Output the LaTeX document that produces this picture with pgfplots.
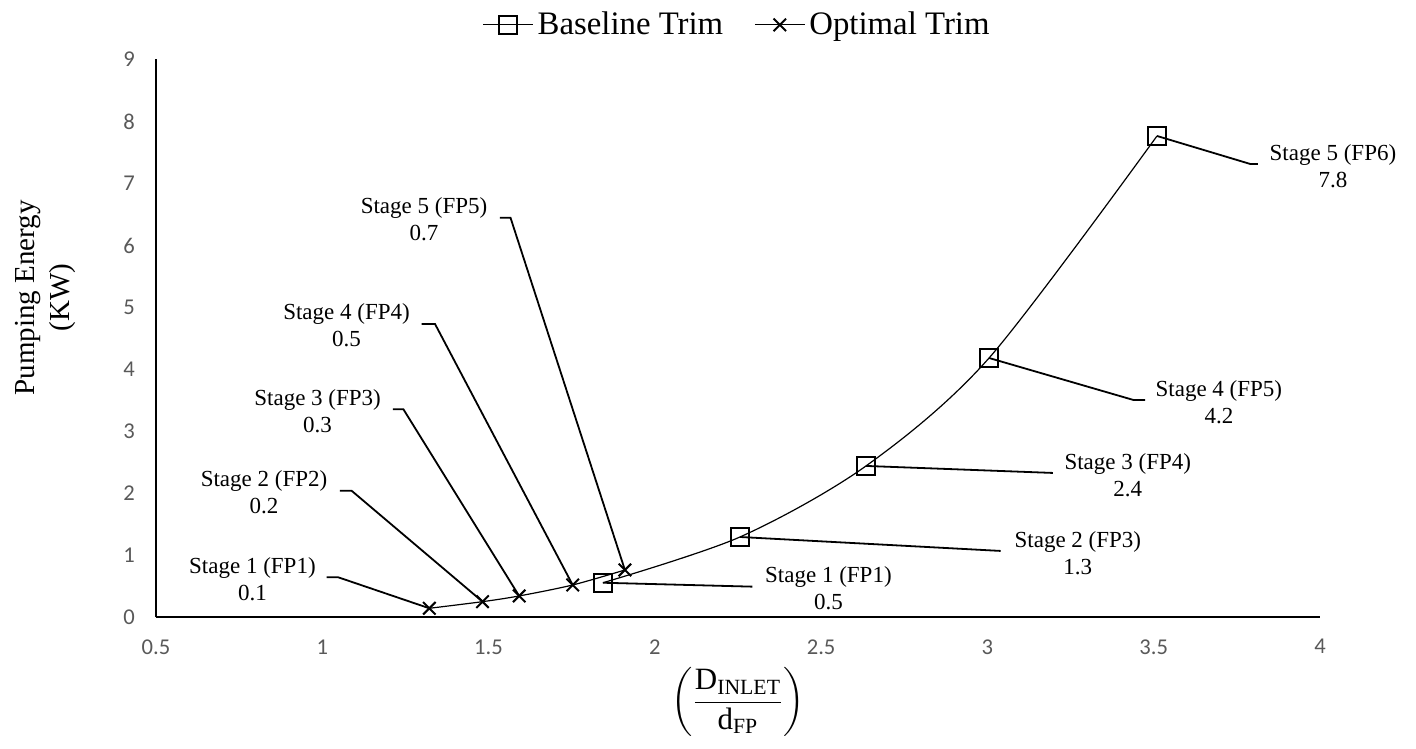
\documentclass[border=0pt]{standalone}
\usepackage{amsmath}
\usepackage{pgfplots}
\pgfplotsset{compat=1.18}
\usepackage{fontspec}
\setmainfont{Liberation Serif}
\newfontfamily\carlito{Carlito}
\definecolor{tickgray}{RGB}{89,89,89}
\newcommand{\lab}{\fontsize{11.5}{13.5}\selectfont}
\begin{document}
\begin{tikzpicture}
\begin{axis}[
  scale only axis, width=582pt, height=279pt,
  xmin=0.5, xmax=4, ymin=0, ymax=9,
  axis lines*=left,
  axis line style={line width=1pt, black},
  major tick length=0pt,
  xtick={0.5,1,1.5,2,2.5,3,3.5,4},
  xticklabels={0.5,1,1.5,2,2.5,3,3.5,4},
  ytick={0,1,2,3,4,5,6,7,8,9},
  yticklabels={0,1,2,3,4,5,6,7,8,9},
  ticklabel style={font=\carlito\fontsize{11.3}{13}\selectfont, text=tickgray},
  xticklabel style={inner sep=0.5pt, yshift=-10.3pt},
  yticklabel style={xshift=-7pt},
  clip=false,
  ylabel={Pumping Energy\\(KW)},
  every axis y label/.style={at={(rel axis cs:-0.095,0.573)}, rotate=90, anchor=center,
     font=\fontsize{14.5}{17.5}\selectfont, align=center},
  xlabel={$\displaystyle\left(\frac{\text{D}_{\text{INLET}}}{\text{d}_{\text{FP}}}\right)$},
  every axis x label/.style={at={(rel axis cs:0.5,-0.152)}, anchor=center, inner sep=0pt,
     font=\fontsize{15.5}{18}\selectfont},
  legend style={at={(rel axis cs:0.5,1.062)}, anchor=center, draw=none, fill=none,
    font=\fontsize{16.4}{19}\selectfont, legend columns=2,
    /tikz/every even column/.append style={column sep=13.5pt}},
  legend image code/.code={\draw[mark repeat=2, mark phase=2, #1] plot coordinates {(0pt,0pt) (12.5pt,0pt) (25pt,0pt)};},
]
\addplot[black, line width=0.6pt, smooth, mark=square, mark size=4.6pt, mark options={line width=1pt, solid}]
  coordinates {(1.844,0.56) (2.256,1.298) (2.635,2.444) (3.005,4.185) (3.51,7.766)};
\addlegendentry{Baseline Trim}
\addplot[black, line width=0.6pt, smooth, mark=x, mark size=4.4pt, mark options={line width=1pt, solid}]
  coordinates {(1.322,0.148) (1.482,0.255) (1.592,0.347) (1.753,0.524) (1.910,0.766)};
\addlegendentry{Optimal Trim}

% leader lines, optimal (left)
\draw[black, line width=0.9pt] (axis cs:1.013,0.648) -- (axis cs:1.048,0.648) -- (axis cs:1.322,0.148);
\draw[black, line width=0.9pt] (axis cs:1.053,2.045) -- (axis cs:1.088,2.045) -- (axis cs:1.482,0.255);
\draw[black, line width=0.9pt] (axis cs:1.212,3.358) -- (axis cs:1.244,3.358) -- (axis cs:1.592,0.347);
\draw[black, line width=0.9pt] (axis cs:1.299,4.734) -- (axis cs:1.339,4.734) -- (axis cs:1.753,0.524);
\draw[black, line width=0.9pt] (axis cs:1.534,6.448) -- (axis cs:1.566,6.448) -- (axis cs:1.910,0.766);
% leader lines, baseline (right)
\draw[black, line width=0.9pt] (axis cs:1.844,0.56) -- (axis cs:2.293,0.497);
\draw[black, line width=0.9pt] (axis cs:2.256,1.298) -- (axis cs:3.04,1.073);
\draw[black, line width=0.9pt] (axis cs:2.635,2.444) -- (axis cs:3.197,2.331);
\draw[black, line width=0.9pt] (axis cs:3.005,4.185) -- (axis cs:3.439,3.508) -- (axis cs:3.474,3.508);
\draw[black, line width=0.9pt] (axis cs:3.51,7.766) -- (axis cs:3.79,7.315) -- (axis cs:3.813,7.315);

% labels
\node[align=center, font=\lab] at (axis cs:0.790,0.621) {Stage 1 (FP1)\\0.1};
\node[align=center, font=\lab] at (axis cs:0.825,2.024) {Stage 2 (FP2)\\0.2};
\node[align=center, font=\lab] at (axis cs:0.986,3.323) {Stage 3 (FP3)\\0.3};
\node[align=center, font=\lab] at (axis cs:1.073,4.713) {Stage 4 (FP4)\\0.5};
\node[align=center, font=\lab] at (axis cs:1.306,6.42) {Stage 5 (FP5)\\0.7};
\node[align=center, font=\lab] at (axis cs:2.522,0.471) {Stage 1 (FP1)\\0.5};
\node[align=center, font=\lab] at (axis cs:3.272,1.04) {Stage 2 (FP3)\\1.3};
\node[align=center, font=\lab] at (axis cs:3.422,2.298) {Stage 3 (FP4)\\2.4};
\node[align=center, font=\lab] at (axis cs:3.696,3.468) {Stage 4 (FP5)\\4.2};
\node[align=center, font=\lab] at (axis cs:4.039,7.274) {Stage 5 (FP6)\\7.8};

\path (rel axis cs:-0.134,-0.234) rectangle (rel axis cs:1.0825,1.1066);
\end{axis}
\end{tikzpicture}
\end{document}
